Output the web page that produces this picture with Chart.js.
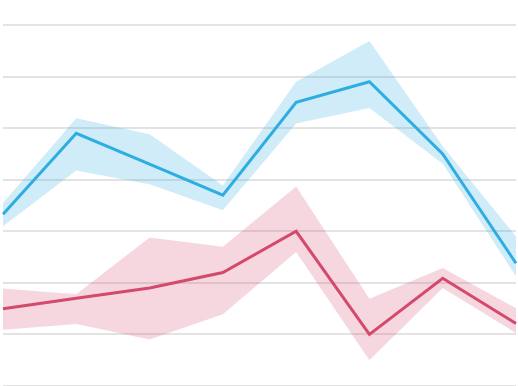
<!DOCTYPE html>
<html>
<head>
<meta charset="utf-8">
<script src="https://cdn.jsdelivr.net/npm/chart.js@4/dist/chart.umd.min.js"></script>
<style>
  html, body { margin: 0; padding: 0; background: #fff; }
  #wrap { width: 518px; height: 386px; }
</style>
</head>
<body>
<div id="wrap"><canvas id="chart"></canvas></div>
<script>
const labels = ['1', '2', '3', '4', '5', '6', '7', '8'];

const blueLine  = [3.33, 4.90, 4.30, 3.70, 5.50, 5.90, 4.50, 2.38];
const blueUpper = [3.55, 5.19, 4.88, 3.89, 5.90, 6.69, 4.65, 2.90];
const blueLower = [3.10, 4.18, 3.91, 3.41, 5.09, 5.39, 4.31, 2.13];

const redLine  = [1.50, 1.70, 1.90, 2.20, 3.00, 1.00, 2.09, 1.21];
const redUpper = [1.89, 1.78, 2.88, 2.70, 3.87, 1.69, 2.29, 1.51];
const redLower = [1.09, 1.20, 0.90, 1.39, 2.60, 0.50, 1.90, 1.03];

const blue = '#2eaee0';
const blueBand = 'rgba(46, 174, 224, 0.23)';
const red = '#d44a6c';
const redBand = 'rgba(212, 74, 108, 0.22)';

// bands get a higher order so they are drawn under the lines
function band(data, fill, color) {
    return {
        data: data,
        borderWidth: 0,
        pointRadius: 0,
        fill: fill,
        backgroundColor: color,
        tension: 0,
        order: 2
    };
}

function line(data, color) {
    return {
        data: data,
        borderColor: color,
        borderWidth: 3,
        pointRadius: 0,
        fill: false,
        tension: 0,
        order: 1
    };
}

const ctx = document.getElementById('chart').getContext('2d');
const chart = new Chart(ctx, {
    type: 'line',
    data: {
        labels: labels,
        datasets: [
            band(blueLower, false, blueBand),
            band(blueUpper, '-1', blueBand),
            band(redLower, false, redBand),
            band(redUpper, '-1', redBand),
            line(blueLine, blue),
            line(redLine, red)
        ]
    },
    options: {
        responsive: true,
        maintainAspectRatio: false,
        animation: false,
        layout: { padding: { left: 3, right: 2, top: 25, bottom: 0 } },
        plugins: { legend: { display: false }, tooltip: { enabled: false } },
        scales: {
            x: { display: false, offset: false },
            y: {
                min: 0,
                max: 7,
                ticks: { display: false, stepSize: 1 },
                border: { display: false },
                grid: { color: '#e3e3e3', lineWidth: 2, drawTicks: false }
            }
        }
    }
});
</script>
</body>
</html>
